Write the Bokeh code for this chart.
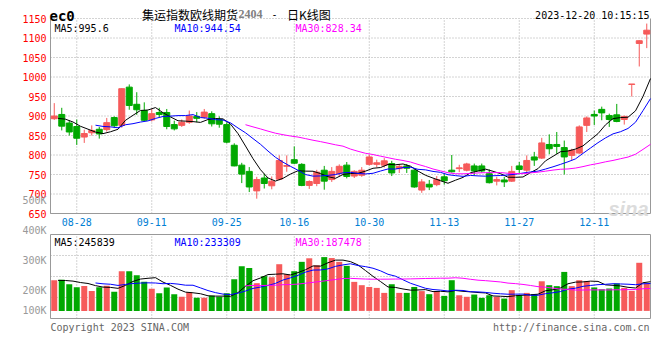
import pandas as pd
from bokeh.plotting import figure
from bokeh.models import ColumnDataSource, Range1d, Label
from bokeh.core.properties import value
from bokeh.transform import dodge
from bokeh.embed import file_html
from bokeh.resources import INLINE

# ---------------- data ----------------
symbol = "ec0"
title_name = "集运指数欧线期货"
title_code = "2404"
title_sep = "-"
title_kind = "日K线图"
timestamp = "2023-12-20 10:15:15"

holidays = ["2023-09-29", "2023-10-02", "2023-10-03", "2023-10-04", "2023-10-05", "2023-10-06"]
tick_dates = ["08-28", "09-11", "09-25", "10-16", "10-30", "11-13", "11-27", "12-11"]
price_ticks = [650, 700, 750, 800, 850, 900, 950, 1000, 1050, 1100, 1150]

open_ = [893, 904, 882, 873, 846, 857, 866, 865, 896, 876,
         974, 930, 914, 890, 909, 909, 878, 876, 884, 899,
         897, 906, 891, 878, 825, 774, 758, 708, 741, 721,
         738, 771, 788, 776, 722, 727, 761, 737, 752, 774,
         746, 748, 776, 776, 774, 778, 765, 772, 761, 710,
         725, 724, 744, 761, 765, 761, 772, 772, 752, 733,
         736, 733, 772, 761, 795, 792, 827, 827, 819, 799,
         805, 876, 904, 917, 901, 903, 891, 981, 1086, 1110]
high = [933, 921, 889, 891, 865, 876, 872, 895, 899, 971,
        981, 961, 935, 918, 921, 918, 888, 891, 914, 910,
        918, 912, 899, 884, 830, 780, 769, 744, 752, 745,
        799, 799, 822, 779, 735, 762, 772, 769, 776, 782,
        761, 769, 801, 788, 792, 785, 776, 777, 765, 738,
        736, 746, 751, 800, 775, 780, 778, 778, 763, 744,
        744, 772, 782, 799, 808, 844, 853, 859, 837, 816,
        876, 899, 914, 924, 906, 931, 901, 982, 1094, 1137]
low = [890, 863, 850, 826, 831, 850, 842, 860, 869, 870,
       916, 903, 887, 886, 897, 866, 863, 872, 880, 884,
       893, 873, 870, 830, 771, 728, 705, 688, 714, 712,
       735, 757, 777, 720, 713, 720, 711, 731, 745, 740,
       741, 744, 773, 769, 768, 746, 754, 754, 716, 703,
       710, 720, 724, 755, 756, 758, 748, 755, 727, 722,
       718, 731, 752, 756, 772, 790, 802, 803, 750, 786,
       803, 859, 877, 889, 872, 884, 878, 950, 1027, 1074]
close = [900, 874, 859, 843, 855, 863, 854, 883, 875, 970,
         927, 916, 889, 906, 904, 873, 867, 884, 900, 894,
         910, 880, 879, 833, 772, 751, 718, 737, 727, 733,
         786, 773, 779, 722, 732, 756, 733, 758, 771, 745,
         758, 761, 795, 780, 785, 754, 771, 766, 718, 731,
         718, 737, 734, 757, 767, 777, 759, 759, 729, 737,
         731, 758, 763, 786, 787, 831, 816, 822, 795, 812,
         872, 895, 900, 908, 891, 886, 899, 982, 1093, 1120]
volume = [259000, 263000, 225000, 200000, 210000, 169000, 200000, 212000, 161000, 335000,
          335000, 301000, 245000, 186000, 149000, 197000, 141000, 119000, 158000, 110000,
          110000, 127000, 119000, 149000, 268000, 377000, 361000, 234000, 293000, 284000,
          394000, 310000, 335000, 414000, 444000, 385000, 454000, 446000, 414000, 380000,
          245000, 217000, 202000, 194000, 152000, 225000, 152000, 152000, 202000, 167000,
          141000, 167000, 127000, 259000, 132000, 119000, 138000, 110000, 132000, 119000,
          104000, 175000, 132000, 152000, 141000, 250000, 217000, 209000, 329000, 209000,
          259000, 250000, 198000, 183000, 189000, 231000, 194000, 169000, 406000, 231000]
# closes / volumes of the days just before the window (needed for the first averages)
pre_close = [885, 895, 898, 892]
pre_volume = [270000, 250000, 260000, 250000]
ma_windows = [5, 10, 30]

price_ma_labels = ["MA5:995.6", "MA10:944.54", "MA30:828.34"]
volume_ma_labels = ["MA5:245839", "MA10:233309", "MA30:187478"]
volume_axis_labels = ["500K", "400K", "300K", "200K", "100K"]
copyright_text = "Copyright 2023 SINA.COM"
site_text = "http://finance.sina.com.cn"
watermark = "sina"

# ---------------- style / layout (pixels) ----------------
UP = "#f65a5a"
DOWN = "#00a800"
MA_COLORS = ["#000000", "#0000ff", "#ff00ff"]
GRID = "#a8a8a8"
FRAME = "#999999"
MONO = "DejaVu Sans Mono"
CJK = "Noto Sans CJK SC"

W, H = 652, 340
LEFT, RIGHT = 50, 650
MAIN_TOP, MAIN_BOT = 18, 213
VOL_TOP, VOL_BOT = 234, 318
VOL_MIN, VOL_MAX = -64100, 644700          # volume values at the panel's bottom / top edge
vol_label_px = [200.3, 230.3, 260.3, 289.7, 309.7]

# ---------------- derived ----------------
trade_days = pd.bdate_range("2023-08-23", "2023-12-20")
trade_days = trade_days[~trade_days.isin(pd.to_datetime(holidays))]
dates = [d.strftime("%m-%d") for d in trade_days]
n = len(close)
idx = list(range(n))
tick_idx = [dates.index(d) for d in tick_dates]

k = len(pre_close)
close_all = pd.Series(pre_close + close, dtype=float)
vol_all = pd.Series(pre_volume + volume, dtype=float)
price_ma = [close_all.rolling(w).mean().iloc[k:].to_numpy() for w in ma_windows]
vol_ma = [vol_all.rolling(w).mean().iloc[k:].to_numpy() for w in ma_windows]

colors = [UP if c >= o else DOWN for o, c in zip(open_, close)]
src = ColumnDataSource(dict(
    x=idx, date=dates, open=open_, high=high, low=low, close=close, vol=volume,
    top=[max(o, c) for o, c in zip(open_, close)],
    bottom=[min(o, c) for o, c in zip(open_, close)],
    color=colors,
    pma5=price_ma[0], pma10=price_ma[1], pma30=price_ma[2],
    vma5=vol_ma[0], vma10=vol_ma[1], vma30=vol_ma[2],
))

# scales: slot units horizontally, price / volume units vertically
slot_px = (RIGHT - LEFT) / n
x_lo, x_hi = -0.5, n - 0.5
x_start = x_lo - LEFT / slot_px
x_end = x_hi + (W - RIGHT) / slot_px
p_lo, p_hi = price_ticks[0], price_ticks[-1]
p_per_px = (p_hi - p_lo) / (MAIN_BOT - MAIN_TOP)
y_start = p_lo - (H - MAIN_BOT) * p_per_px
y_end = p_hi + MAIN_TOP * p_per_px
v_per_px = (VOL_MAX - VOL_MIN) / (VOL_BOT - VOL_TOP)
v_start = VOL_MIN - (H - VOL_BOT) * v_per_px
v_end = VOL_MAX + VOL_TOP * v_per_px

def X(px):
    return x_start + px * (x_end - x_start) / W

def PY(py):
    return y_end - py * (y_end - y_start) / H

def VY(py):
    return v_end - py * (v_end - v_start) / H

p = figure(width=W, height=H, x_range=Range1d(x_start, x_end), y_range=Range1d(y_start, y_end),
           x_axis_location=None, y_axis_location=None,
           min_border=0, min_border_left=0, min_border_right=0, min_border_top=0, min_border_bottom=0,
           toolbar_location=None, tools="", output_backend="svg",
           background_fill_color="white", border_fill_color="white", outline_line_color=None)
p.extra_y_ranges = {"vol": Range1d(v_start, v_end)}
p.xgrid.visible = False
p.ygrid.visible = False

# ---------------- price panel frame & grid ----------------
p.segment(x0=[x_lo] * len(price_ticks), x1=[x_hi] * len(price_ticks), y0=price_ticks, y1=price_ticks,
          line_color=GRID, line_dash="1 2", line_width=1)
p.segment(x0=tick_idx, x1=tick_idx, y0=[p_lo] * len(tick_idx), y1=[p_hi] * len(tick_idx),
          line_color=GRID, line_dash="1 2", line_width=1)
p.segment(x0=[x_lo, x_lo, x_hi], x1=[x_hi, x_lo, x_hi], y0=[p_lo, p_lo, p_lo], y1=[p_lo, p_hi, p_hi],
          line_color=FRAME, line_width=1)

# ---------------- volume panel frame & grid ----------------
vgrid = [VOL_MIN + (VOL_MAX - VOL_MIN) * j / 4 for j in (1, 2, 3)]
p.segment(x0=[x_lo] * 3, x1=[x_hi] * 3, y0=vgrid, y1=vgrid, y_range_name="vol",
          line_color=GRID, line_dash="1 2", line_width=1)
p.segment(x0=tick_idx, x1=tick_idx, y0=[VOL_MIN] * len(tick_idx), y1=[VOL_MAX] * len(tick_idx),
          y_range_name="vol", line_color=GRID, line_dash="1 2", line_width=1)
p.quad(left=[x_lo], right=[x_hi], bottom=[VOL_MIN], top=[VOL_MAX], y_range_name="vol",
       fill_color=None, line_color=FRAME, line_width=1)

# ---------------- marks ----------------
p.segment(x0="x", y0="low", x1="x", y1="high", color="color", line_width=1, source=src)
p.vbar(x="x", width=0.8, top="top", bottom="bottom", fill_color="color", line_color="color",
       line_width=1, source=src)
for col, c in zip(["pma5", "pma10", "pma30"], MA_COLORS):
    p.line(x=dodge("x", 0.5), y=col, color=c, line_width=1, source=src)

p.vbar(x="x", width=0.8, top="vol", bottom=0, fill_color="color", line_color=None,
       y_range_name="vol", source=src)
for col, c in zip(["vma5", "vma10", "vma30"], MA_COLORS):
    p.line(x=dodge("x", 0.5), y=col, color=c, line_width=1, y_range_name="vol", source=src)

# ---------------- tick labels ----------------
p.text(x=[X(46)] * len(price_ticks), y=price_ticks, text=[str(t) for t in price_ticks],
       text_font=value(MONO), text_font_size="10px", text_color="#ff0000",
       text_align="right", text_baseline="middle")
p.text(x=tick_idx, y=[PY(221.7)] * len(tick_idx), text=tick_dates,
       text_font=value(MONO), text_font_size="10px", text_color="#0080d4",
       text_align="center", text_baseline="middle")
p.text(x=[X(46)] * len(volume_axis_labels), y=[VY(py) for py in vol_label_px], text=volume_axis_labels,
       y_range_name="vol", text_font=value(MONO), text_font_size="10px", text_color="#999999",
       text_align="right", text_baseline="middle")

# ---------------- other texts ----------------
def txt(text, px, py, color="#000000", size="10px", font=MONO, align="left",
        baseline="alphabetic", style="normal"):
    p.add_layout(Label(x=X(px), y=PY(py), text=text, text_color=color, text_font_size=size,
                       text_font=font, text_align=align, text_baseline=baseline,
                       text_font_style=style))

txt(symbol, 49, 15.3, size="14px", style="bold")
txt(title_name, 141.5, 13.5, size="12px", font=CJK)
txt(title_code, 238, 13, color="#808080", size="12px", font="Liberation Serif", style="bold")
txt(title_sep, 271, 13)
txt(title_kind, 286.5, 13.5, size="12px", font=CJK)
txt(timestamp, 649, 15.3, align="right")
for lab, px, c in zip(price_ma_labels, [54, 174, 295], MA_COLORS):
    txt(lab, px, 27.5, color=c)
for lab, px, c in zip(volume_ma_labels, [54, 174, 295], MA_COLORS):
    txt(lab, px, 241.7, color=c)
txt(watermark, 648, 208, color="#dcdcdc", size="20px", font="Liberation Sans", align="right",
    style="bold italic")
txt(copyright_text, 50, 326.5, color="#666666")
txt(site_text, 649, 326.5, color="#666666", align="right")

open("out.html", "w").write(file_html(p, INLINE))
